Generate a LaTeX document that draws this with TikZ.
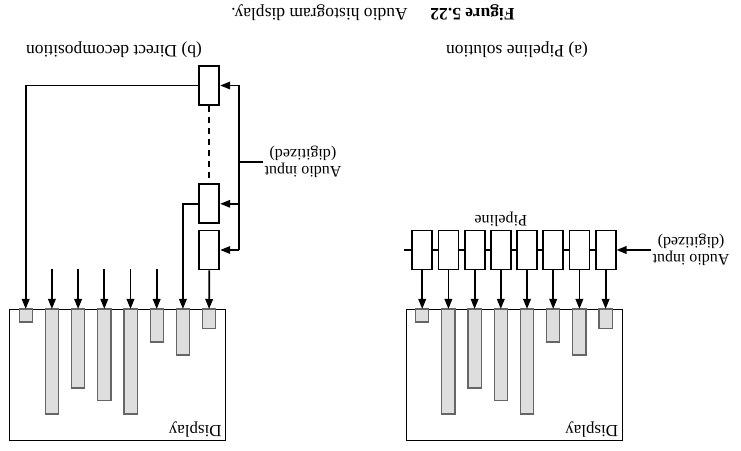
\documentclass[tikz,border=0pt]{standalone}
\usepackage{fontspec}
\setmainfont{Liberation Serif}
\usetikzlibrary{positioning,arrows.meta,calc}

\begin{document}
\begin{tikzpicture}[x=1pt,y=1pt,
  rotate around={180:(370.5,225)},transform shape,
  stagebox/.style={
    rectangle,
    draw=black,
    line width=1.8pt,
    minimum width=20pt,minimum height=39pt,
    inner sep=0pt,
  },
  screen/.style={rectangle,draw=black,line width=0.8pt,
    minimum width=216pt,minimum height=131pt,inner sep=0pt},
  histbar/.style={draw=black!60,line width=1.2pt,fill=black!13},
  wire/.style={line width=1.8pt},
  feed/.style={wire,-{Triangle[length=10pt,width=7.5pt]}},
  tagtext/.style={font=\fontsize{16}{17}\selectfont,align=center,inner sep=1pt},
  captext/.style={font=\fontsize{17.5}{19}\selectfont}]
\useasboundingbox (0,0) rectangle (741,450);

% both screens with the same histogram
\foreach \side/\dx in {a/0,b/396.5}{
  \node[screen] (disp\side) at (227+\dx,374.5) {};
  \node[tagtext,anchor=north west,font=\fontsize{17}{18}\selectfont]
    at ($(disp\side.north west)+(3,-2)$) {Display};
  \foreach \h [count=\j] in {19.7,46,33,105,91.7,79,105,13}{
    \coordinate (bar\side\j) at (109.2+26.2*\j+\dx,309);
    \draw[histbar] ($(bar\side\j)+(-6.6,0)$) rectangle ++(13.2,\h);
  }
}

% (a) pipeline of stages
\foreach \j in {1,...,8}
  \node[stagebox] (pipe\j) at (109.2+26.2*\j,250) {};
\foreach \j [evaluate=\j as \k using int(\j+1)] in {1,...,7}
  \draw[wire] (pipe\j.east) -- (pipe\k.west);
\draw[wire] (pipe8.east) -- ++(7,0);
\foreach \j in {1,...,8}
  \draw[feed] (pipe\j.north) -- (bara\j);
\node[tagtext] (srca) at (50,250) {Audio input\\(digitized)};
\draw[feed] (srca.east) -- (pipe1.west);
\node[tagtext,below=2pt of pipe5] {Pipeline};
\node[captext] (capa) at (224,50) {(a) Pipeline solution};

% (b) one stage per channel
\node[stagebox] (dec1) at (531.7,250) {};
\node[stagebox] (dec2) at (531.7,203.8) {};
\node[stagebox] (dec3) at (531.7,85.5) {};
\draw[wire,dash pattern=on 6pt off 5pt] (dec3.north) -- (dec2.south);
\coordinate (bustop) at (501.7,250);
\coordinate (busbot) at (501.7,85.5);
\draw[wire] (busbot) -- (bustop);
\foreach \n in {1,2,3}
  \draw[feed] (dec\n.west -| bustop) -- (dec\n.west);
\node[tagtext] (srcb) at (438,162) {Audio input\\(digitized)};
\draw[wire] (srcb.east) -- (srcb.east -| bustop);
\draw[feed] (dec1.north) -- (barb1);
\draw[feed] (dec2.east) -| (barb2);
\draw[feed] (dec3.east) -| (barb8);
\foreach \j in {3,...,7}
  \draw[feed] ($(barb\j)+(0,-40)$) -- (barb\j);
\node[captext] (capb) at (627,50) {(b) Direct decomposition};

\node[captext] (fig) at (368,13) {\textbf{Figure 5.22}\hspace{1.3em}Audio histogram display.};
\end{tikzpicture}
\end{document}
